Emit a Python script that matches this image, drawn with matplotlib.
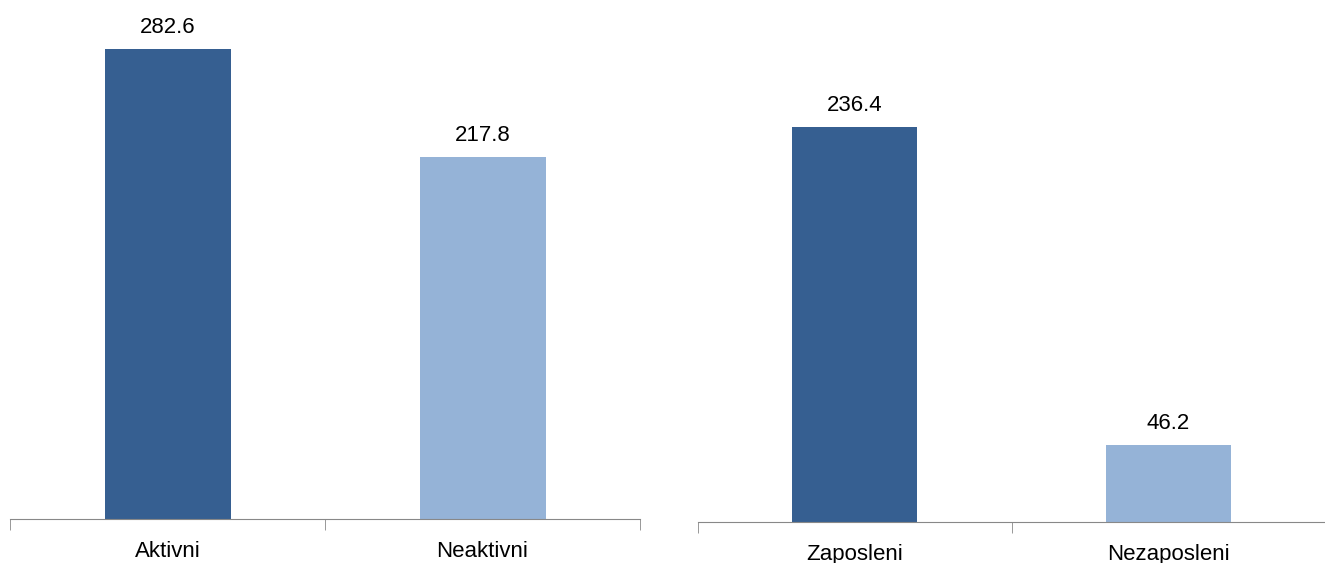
import matplotlib
matplotlib.use("Agg")
import matplotlib.pyplot as plt

plt.rcParams['font.family'] = ['Liberation Sans', 'DejaVu Sans']

left_labels = ['Aktivni', 'Neaktivni']
left_values = [282.6, 217.8]
right_labels = ['Zaposleni', 'Nezaposleni']
right_values = [236.4, 46.2]
colors = ['#365F91', '#95B3D7']

W, H = 1325, 563
fig = plt.figure(figsize=(W / 100, H / 100), dpi=100)

def panel(rect, labels, values, ymax, xmax):
    ax = fig.add_axes(rect)
    x = range(len(values))
    ax.bar(x, values, width=0.4, color=colors)
    for i, v in enumerate(values):
        ax.annotate(f'{v:.1f}', (i, v), xytext=(0, 11.5), textcoords='offset points',
                    ha='center', va='baseline', fontsize=16)
    ax.set_xlim(-0.5, xmax)
    ax.set_ylim(0, ymax)
    for s in ['top', 'right', 'left']:
        ax.spines[s].set_visible(False)
    ax.spines['bottom'].set_color('#888888')
    ax.set_yticks([])
    ax.set_xticks(list(x))
    ax.set_xticklabels(labels, fontsize=16)
    ax.tick_params(axis='x', which='major', length=0, pad=16)
    ax.set_xticks([-0.5, 0.5, 1.5], minor=True)
    ax.tick_params(axis='x', which='minor', length=8, color='#888888')
    return ax

# left panel: baseline at 519px, edges 10..640
panel([10 / W, (H - 519) / H, 630 / W, 519 / H], left_labels, left_values,
      519 / 1.663, 1.5)
# right panel: baseline at 522px, starts at 698, clipped at figure edge
panel([698 / W, (H - 522) / H, 627 / W, 522 / H], right_labels, right_values,
      522 / 1.671, -0.5 + 627 / 320)

plt.savefig('out.png', dpi=100)
